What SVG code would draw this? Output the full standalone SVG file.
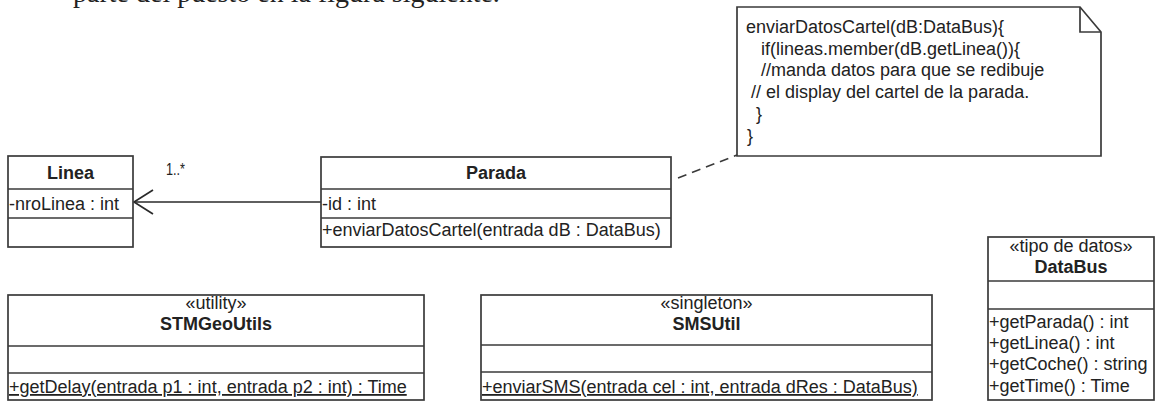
<svg xmlns="http://www.w3.org/2000/svg" width="1160" height="401" viewBox="0 0 1160 401">
<style>
.bg{fill:#ffffff}
.box{fill:#ffffff;stroke:#3a3a3a;stroke-width:1.7}
.sep{stroke:#3a3a3a;stroke-width:1.7;fill:none}
.t{font-family:"Liberation Sans",Arial,sans-serif;font-size:18px;fill:#222222}
.b{font-weight:bold}
.c{text-anchor:middle}
.u{text-decoration:underline}
.small{font-size:16px}
.line{stroke:#2a2a2a;stroke-width:1.7;fill:none}
.dash{stroke:#3a3a3a;stroke-width:1.6;fill:none;stroke-dasharray:9 6}
.serif{font-family:"Liberation Serif","Times New Roman",serif;font-size:28px;fill:#222222}
</style>
<rect class="bg" x="0" y="0" width="1160" height="401"/>
<text class="serif" x="73" y="2">parte del puesto en la figura siguiente.</text>

<g id="connectors">
  <line class="line" x1="134" y1="202" x2="321" y2="202"/>
  <polyline class="line" points="153,190 134,202 153,214"/>
  <text class="t small" x="166" y="175" textLength="19" lengthAdjust="spacingAndGlyphs">1..*</text>
  <line class="dash" x1="678" y1="178" x2="737" y2="155"/>
</g>

<g id="Linea">
  <rect class="box" x="8" y="156" width="125" height="91"/>
  <line class="sep" x1="8" y1="189" x2="133" y2="189"/>
  <line class="sep" x1="8" y1="218" x2="133" y2="218"/>
  <text class="t b c" x="70.5" y="179">Linea</text>
  <text class="t" x="9" y="210">-nroLinea : int</text>
</g>

<g id="Parada">
  <rect class="box" x="321" y="157" width="350" height="90"/>
  <line class="sep" x1="321" y1="189" x2="671" y2="189"/>
  <line class="sep" x1="321" y1="218" x2="671" y2="218"/>
  <text class="t b c" x="496" y="179">Parada</text>
  <text class="t" x="322" y="210">-id : int</text>
  <text class="t" x="322" y="236">+enviarDatosCartel(entrada dB : DataBus)</text>
</g>

<g id="nota">
  <path class="box" d="M737,7 H1080 L1101,32 V156 H737 Z"/>
  <path class="sep" d="M1080,7 V32 H1101"/>
  <text class="t" x="746" y="33">enviarDatosCartel(dB:DataBus){</text>
  <text class="t" x="761" y="54.7">if(lineas.member(dB.getLinea()){</text>
  <text class="t" x="761" y="76.4">//manda datos para que se redibuje</text>
  <text class="t" x="751" y="98">// el display del cartel de la parada.</text>
  <text class="t" x="756" y="119.8">}</text>
  <text class="t" x="747" y="141.5">}</text>
</g>

<g id="STMGeoUtils">
  <rect class="box" x="8" y="295" width="416" height="105"/>
  <line class="sep" x1="8" y1="346" x2="424" y2="346"/>
  <line class="sep" x1="8" y1="373" x2="424" y2="373"/>
  <text class="t c" x="216" y="309">«utility»</text>
  <text class="t b c" x="216" y="330">STMGeoUtils</text>
  <text class="t u" x="9" y="393">+getDelay(entrada p1 : int, entrada p2 : int) : Time</text>
</g>

<g id="SMSUtil">
  <rect class="box" x="481" y="295" width="451" height="105"/>
  <line class="sep" x1="481" y1="345" x2="932" y2="345"/>
  <line class="sep" x1="481" y1="372" x2="932" y2="372"/>
  <text class="t c" x="706.5" y="309">«singleton»</text>
  <text class="t b c" x="706.5" y="330">SMSUtil</text>
  <text class="t u" x="482" y="393">+enviarSMS(entrada cel : int, entrada dRes : DataBus)</text>
</g>

<g id="DataBus">
  <rect class="box" x="988" y="237" width="166" height="163"/>
  <line class="sep" x1="988" y1="281" x2="1154" y2="281"/>
  <line class="sep" x1="988" y1="309" x2="1154" y2="309"/>
  <text class="t c" x="1071" y="252">«tipo de datos»</text>
  <text class="t b c" x="1071" y="273">DataBus</text>
  <text class="t" x="989" y="328">+getParada() : int</text>
  <text class="t" x="989" y="349">+getLinea() : int</text>
  <text class="t" x="989" y="370">+getCoche() : string</text>
  <text class="t" x="989" y="392">+getTime() : Time</text>
</g>
</svg>
